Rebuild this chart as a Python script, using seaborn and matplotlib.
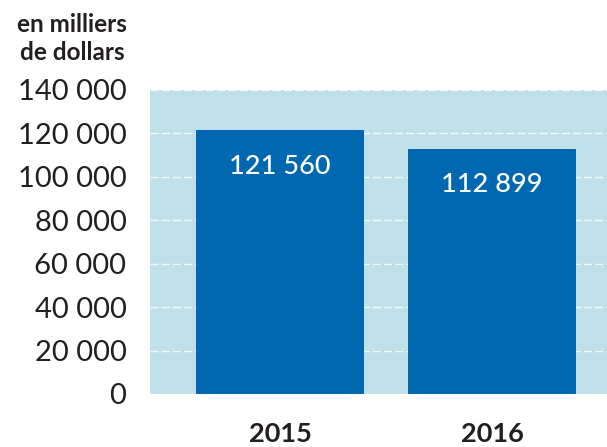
import matplotlib.pyplot as plt
import seaborn as sns
import pandas as pd

annees = ["2015", "2016"]
montants = [121560, 112899]
etiquettes = ["121 560", "112 899"]
graduations = [0, 20000, 40000, 60000, 80000, 100000, 120000, 140000]
grad_textes = ["0", "20 000", "40 000", "60 000", "80 000", "100 000", "120 000", "140 000"]

veri = pd.DataFrame({"Annee": annees, "Montant": montants})

sns.set_style("white")
plt.rcParams["font.family"] = ["Lato", "DejaVu Sans"]

fig = plt.figure(figsize=(6.07, 4.47), dpi=100)
ax = fig.add_axes([150 / 607, 1 - 394 / 447, 1 - 150 / 607, 304 / 447])
ax.set_facecolor("#bfdfeb")

sns.barplot(data=veri, x="Annee", y="Montant", color="#0067b1", saturation=1,
            width=0.79, linewidth=0, ax=ax, zorder=3)

ax.set_ylim(0, 140000)
ax.set_xlim(-0.613, 1.542)
ax.set_yticks(graduations)
ax.set_yticklabels(grad_textes, fontsize=21, color="#231f20")
ax.tick_params(axis="y", length=0, pad=17)
ax.tick_params(axis="x", length=0, pad=20)
for t in ax.get_xticklabels():
    t.set_fontsize(19.5)
    t.set_fontweight("bold")
    t.set_color("#231f20")
ax.set_xlabel("")
ax.set_ylabel("")
ax.yaxis.grid(True, color="white", linestyle=(0, (6, 2)), linewidth=1, alpha=0.8)
ax.set_axisbelow(True)
for s in ax.spines.values():
    s.set_visible(False)

for i, (v, txt) in enumerate(zip(montants, etiquettes)):
    ax.annotate(txt, (i, v), xytext=(0, -26), textcoords="offset points",
                ha="center", va="center", color="white", fontsize=19.5,
                fontweight="medium")

fig.text(72 / 607, 1 - 25 / 447, "en milliers", ha="center", va="center",
         fontsize=17.5, fontweight="bold", color="#231f20")
fig.text(72 / 607, 1 - 52 / 447, "de dollars", ha="center", va="center",
         fontsize=17.5, fontweight="bold", color="#231f20")

plt.savefig("out.png", dpi=100)
